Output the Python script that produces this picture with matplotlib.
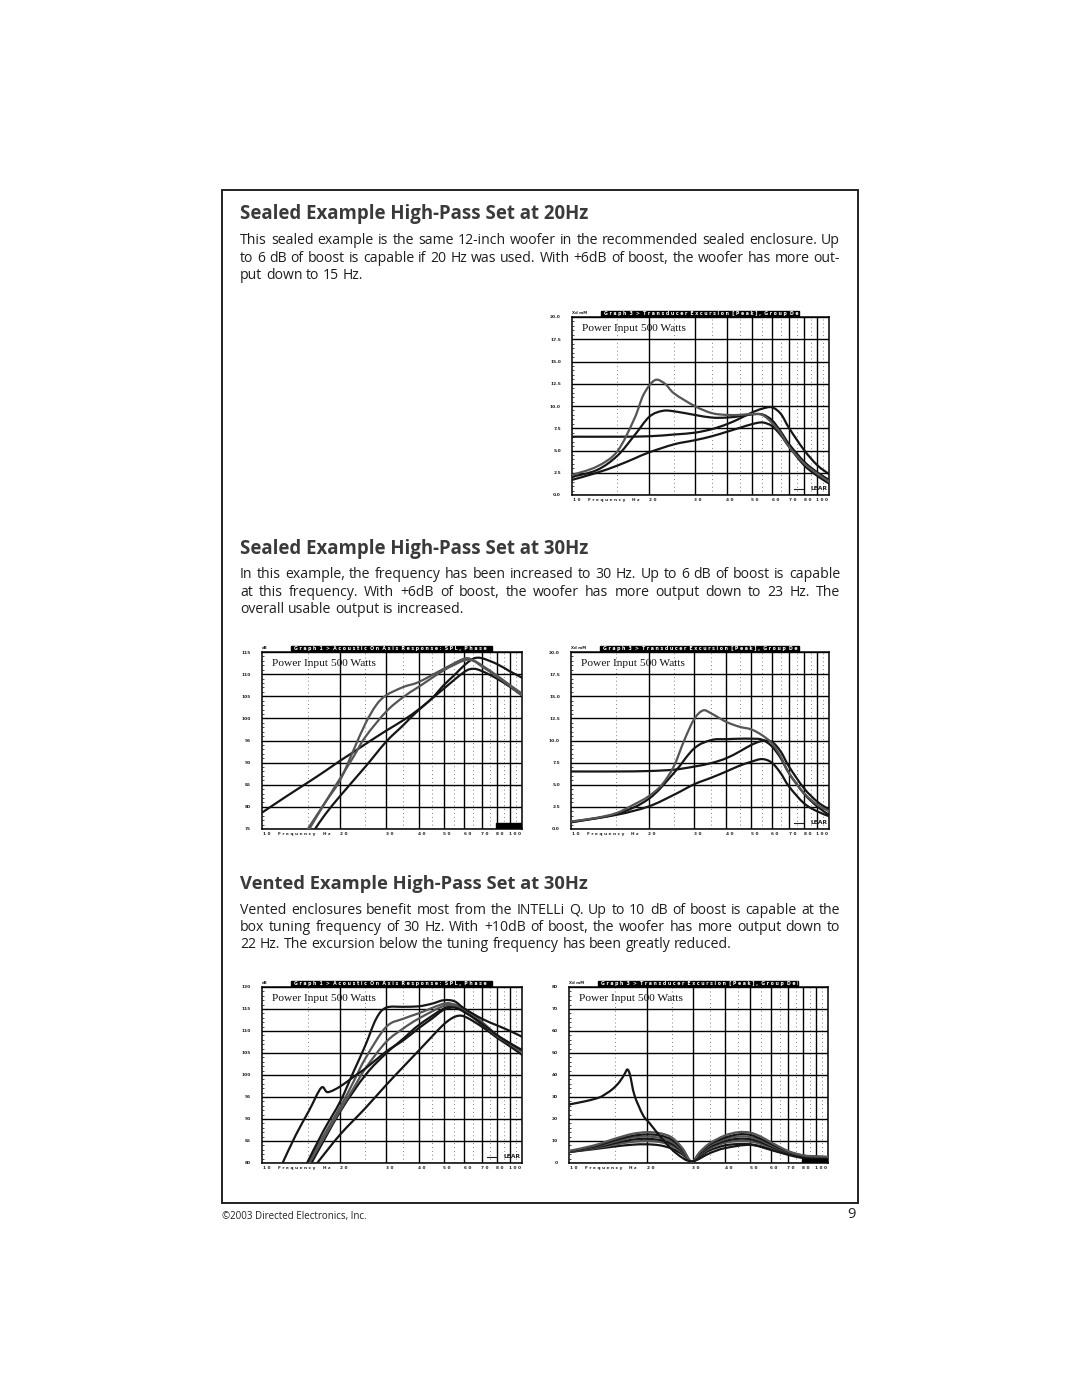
import numpy as np
import matplotlib.pyplot as plt
from matplotlib.patches import Rectangle, PathPatch
from matplotlib.path import Path
from matplotlib.ticker import NullLocator, MultipleLocator
from matplotlib.transforms import blended_transform_factory, TransformedBbox, Bbox

W, H = 1080, 1397
fig = plt.figure(figsize=(W / 100, H / 100), dpi=100)
fig.patch.set_facecolor("white")

GRAY = "#555555"
DARK = "#161616"

# ---------------- data ----------------
# chart 1: sealed, high-pass 20 Hz, excursion (mm)
s20_f_a = [10, 12.5, 15, 17.5, 19, 21, 23, 25, 30, 35, 40, 45, 50, 55, 60, 65, 70, 80, 90, 100]
s20_a = [2.25, 3.2, 4.9, 8.6, 11.3, 12.9, 12.5, 11.4, 10.0, 9.2, 9.0, 9.0, 9.1, 9.0, 8.1, 6.9, 5.4, 3.55, 2.4, 1.5]
s20_f_b = [10, 12.5, 15, 17.5, 20, 22.5, 25, 30, 35, 40, 45, 50, 55, 60, 65, 70, 80, 90, 100]
s20_b = [2.05, 2.8, 4.4, 6.7, 8.8, 9.45, 9.4, 9.0, 8.7, 8.7, 8.85, 9.05, 9.05, 8.4, 7.1, 5.7, 3.75, 2.55, 1.7]
s20_f_c = [10, 15, 20, 25, 30, 35, 40, 45, 50, 55, 60, 65, 70, 80, 90, 100]
s20_c = [6.55, 6.55, 6.6, 6.8, 7.0, 7.4, 7.95, 8.6, 9.25, 9.7, 9.85, 9.1, 7.5, 5.05, 3.35, 2.35]
s20_f_d = [10, 12.5, 15, 17.5, 20, 25, 30, 35, 40, 45, 50, 55, 60, 65, 70, 80, 90, 100]
s20_d = [1.7, 2.5, 3.3, 4.1, 4.8, 5.7, 6.15, 6.6, 7.1, 7.55, 7.95, 8.15, 7.75, 6.7, 5.4, 3.35, 2.15, 1.3]

# chart 2: sealed, high-pass 30 Hz, SPL (dB)
spl30_f_l = [10, 12.5, 15, 17.5, 20, 22.5, 25, 30, 35, 40, 45, 50, 55, 60, 65, 70, 80, 90, 100]
spl30_l = [78.7, 82.5, 85.5, 88.1, 90.45, 92.4, 94.2, 97.2, 99.6, 102, 104.5, 107.5, 109.8, 112, 113.5, 113.6, 112.3, 110.6, 109.2]
spl30_f_g1 = [15, 17.5, 20, 22.5, 25, 27.5, 30, 35, 40, 50, 60, 65, 70, 80, 90, 100]
spl30_g1 = [75, 81, 86.1, 92.85, 98.85, 103, 105.2, 107.1, 108.2, 111.2, 113.5, 113.1, 112, 109.7, 107.5, 105.6]
spl30_f_g2 = [15.2, 17.5, 20, 22.5, 25, 30, 35, 40, 50, 60, 65, 70, 80, 90, 100]
spl30_g2 = [75, 81, 86.5, 91.35, 95.85, 101.5, 104.85, 107.1, 110.85, 113.1, 113, 111.75, 109.5, 107.25, 105.2]
spl30_f_d = [16, 17.5, 20, 25, 30, 35, 40, 50, 60, 65, 70, 80, 90, 100]
spl30_d = [75, 78.3, 82.5, 89.1, 94.7, 98.5, 101.85, 106.7, 110.5, 111.2, 110.7, 109, 107.1, 105.2]

# chart 3: sealed, high-pass 30 Hz, excursion (mm)
x30_f_a = [10, 12.5, 15, 17.5, 20, 22.5, 25, 27.5, 30, 32.5, 35, 40, 45, 50, 55, 60, 65, 70, 80, 90, 100]
x30_a = [0.85, 1.25, 1.8, 2.75, 3.7, 5.0, 7.05, 10.05, 12.4, 13.4, 13.05, 12.1, 11.55, 11.25, 10.6, 9.7, 8.2, 6.3, 4.05, 2.75, 2.0]
x30_f = [10, 15, 20, 25, 30, 35, 40, 45, 50, 55, 60, 65, 70, 80, 90, 100]
x30_b = [0.75, 1.7, 3.4, 6.3, 9.1, 10.05, 10.15, 10.2, 10.2, 10.1, 9.35, 8.0, 6.3, 4.0, 2.55, 1.6]
x30_c = [6.5, 6.5, 6.55, 6.7, 7.05, 7.45, 8.0, 8.75, 9.5, 9.95, 9.85, 8.75, 7.05, 4.6, 3.1, 2.2]
x30_d = [0.8, 1.6, 2.55, 3.85, 5.05, 5.8, 6.5, 7.15, 7.6, 7.9, 7.5, 6.3, 4.8, 2.9, 2.0, 1.45]

# chart 4: vented, high-pass 30 Hz, SPL (dB)
v_f1 = [12, 13.5, 15.2, 16.9, 17.9, 20, 22.5, 25, 30, 35, 40, 45, 50, 55, 60, 70, 80, 90, 100]
v_1 = [80, 86.4, 92.0, 97.1, 96.1, 97.4, 99.6, 101.5, 105.3, 107.9, 110.6, 112.8, 114.8, 115.3, 114.3, 111.7, 109.1, 107.2, 105.7]
v_f2 = [14.9, 17.2, 20, 22.5, 25, 27.5, 30, 35, 40, 45, 50, 55, 60, 70, 80, 90, 100]
v_2 = [80, 87.2, 94, 100.75, 106.8, 112.8, 115.3, 115.5, 115.6, 116.2, 117, 116.75, 115.1, 112.8, 111.3, 110, 108.7]
v_f3 = [15, 20, 22.5, 25, 30, 35, 40, 50, 55, 60, 70, 80, 90, 100]
v_3 = [80, 92.8, 98.5, 103.8, 110.9, 112.8, 114, 116.2, 116, 115.1, 112.1, 109.1, 107.2, 105.4]
v_f4 = [15.2, 20, 22.5, 25, 30, 35, 40, 50, 55, 60, 70, 80, 90, 100]
v_4 = [80, 92.1, 97, 101.5, 107.5, 110.6, 112.8, 115.7, 115.7, 114.9, 111.7, 108.9, 107, 105.1]
v_f5 = [15.5, 20, 25, 30, 35, 40, 50, 55, 60, 70, 80, 90, 100]
v_5 = [80, 91.7, 100, 104.9, 108.3, 111.3, 115.1, 115.5, 114.7, 111.5, 108.7, 106.8, 104.9]
v_f6 = [16.3, 20, 25, 30, 35, 40, 45, 50, 55, 60, 70, 80, 90, 100]
v_6 = [80, 86.5, 92.5, 97.7, 101.9, 105.5, 108.7, 111.5, 113.2, 113.3, 111, 108.5, 106.5, 104.6]

# chart 5: vented, high-pass 30 Hz, excursion (mm)
vx_f_k = [10, 11.7, 13.1, 13.9, 14.8, 15.7, 16.4, 16.8, 17.2, 17.9, 19.3, 20.5, 23.1, 25.9, 29.7,
          35, 40, 50, 60, 70, 80, 90, 100]
vx_k = [26.6, 28.2, 29.8, 31.5, 33.8, 37, 40.5, 42.5, 40, 30.8, 21.8, 18, 10.5, 4.5, 0.75,
        4.5, 6.75, 8.25, 6, 3.75, 2.25, 1.8, 1.8]
vx_f = [10, 12.5, 15, 17.5, 20, 22.5, 25, 27.5, 29.7, 32, 35, 40, 45, 50, 55, 60, 70, 80, 90, 100]
vx_1 = [5.5, 8, 11, 13.2, 14, 13.5, 11.5, 6.5, 0.5, 5, 9, 12.5, 14, 13.8, 12, 9.5, 5.5, 3.5, 3, 2.8]
vx_2 = [5.3, 7.5, 10.3, 12.3, 13, 12.5, 10.5, 6, 0.5, 4.5, 8.5, 11.5, 13, 12.8, 11, 8.8, 5.2, 3.4, 2.9, 2.7]
vx_3 = [5.2, 7.2, 9.7, 11.5, 12, 11.4, 9.5, 5.5, 0.5, 4.2, 8, 10.8, 12, 11.8, 10.3, 8.2, 5, 3.3, 2.8, 2.6]
vx_4 = [5, 6.9, 9, 10.6, 11, 10.4, 8.6, 5, 0.5, 3.8, 7.3, 10, 11, 10.8, 9.5, 7.6, 4.7, 3.2, 2.7, 2.5]
vx_5 = [5, 6.6, 8.3, 9.6, 10, 9.5, 7.8, 4.5, 0.5, 3.5, 6.7, 9.2, 10, 9.8, 8.7, 7, 4.4, 3.1, 2.6, 2.4]
vx_6 = [5, 6.3, 7.5, 8.3, 8.5, 8, 6.5, 3.8, 0.5, 3, 5.8, 8, 8.6, 8.5, 7.6, 6.2, 4, 3, 2.5, 2.3]

xd_ticks = [0, 2.5, 5, 7.5, 10, 12.5, 15, 17.5, 20]
xd_labels = ["0.0", "2.5", "5.0", "7.5", "10.0", "12.5", "15.0", "17.5", "20.0"]
spl_ticks_a = [75, 80, 85, 90, 95, 100, 105, 110, 115]
spl_ticks_b = [80, 85, 90, 95, 100, 105, 110, 115, 120]
xd_ticks_b = [0, 10, 20, 30, 40, 50, 60, 70, 80]

major_f = [20, 30, 40, 50, 60, 70, 80, 90]
minor_f = [15, 25, 35, 45, 55, 65, 75, 85, 95]
freq_labels = [(20, "2 0"), (30, "3 0"), (40, "4 0"), (50, "5 0"), (60, "6 0"), (70, "7 0"), (80, "8 0")]

HDR_SPL = "Graph 1 > Acoustic On Axis Response: SPL, Phase"
HDR_XD = "Graph 3 > Transducer Excursion [Peak], Group Delay"


def rect(x0, y0, x1, y1):
    return [x0 / W, 1 - y1 / H, (x1 - x0) / W, (y1 - y0) / H]


def spaced(s):
    return " ".join(s)


def smooth_path(fx, vals):
    # draw a smooth curve through the read points (control points in log-f space)
    u = np.log10(fx)
    v = np.asarray(vals, dtype=float)
    n = len(u)
    verts = [(fx[0], v[0])]
    codes = [Path.MOVETO]
    for i in range(n - 1):
        i0 = max(i - 1, 0)
        i3 = min(i + 2, n - 1)
        c1u = u[i] + (u[i + 1] - u[i0]) / 6
        c1v = v[i] + (v[i + 1] - v[i0]) / 6
        c2u = u[i + 1] - (u[i3] - u[i]) / 6
        c2v = v[i + 1] - (v[i3] - v[i]) / 6
        verts += [(10 ** c1u, c1v), (10 ** c2u, c2v), (fx[i + 1], v[i + 1])]
        codes += [Path.CURVE4] * 3
    return Path(verts, codes)


def chart(pos, ticks, labels, unit, header, curves, minor, logo=True, blob=None):
    ax = fig.add_axes(rect(*pos))
    ax.set_xscale("log")
    ax.set_xlim(10, 100)
    ax.set_ylim(ticks[0], ticks[-1])
    for f in major_f:
        ax.axvline(f, color="black", lw=1.0, zorder=1)
    for f in minor_f:
        ax.axvline(f, color="#808080", lw=0.7, ls=(0, (1, 3)), zorder=1)
    for t in ticks:
        ax.axhline(t, color="black", lw=1.0, zorder=1)
    for fx, vals, col in curves:
        ax.add_patch(PathPatch(smooth_path(fx, vals), fill=False, edgecolor=col,
                               lw=1.6, capstyle="round", joinstyle="round", zorder=3))
    for s in ax.spines.values():
        s.set_linewidth(1.1)
    ax.xaxis.set_major_locator(NullLocator())
    ax.xaxis.set_minor_locator(NullLocator())
    ax.set_yticks(ticks)
    ax.set_yticklabels(labels, fontsize=3.2, fontweight="bold", color="#222222")
    ax.yaxis.set_minor_locator(MultipleLocator(minor))
    ax.tick_params(axis="y", which="major", length=0, pad=8)
    ax.tick_params(axis="y", which="minor", direction="in", length=1.6, width=0.5)

    tr = blended_transform_factory(ax.transData, ax.transAxes)
    kw = dict(transform=tr, va="top", fontsize=3.1, fontweight="bold", color="#222222")
    ax.text(10.1, -0.018, "1 0", ha="left", **kw)
    ax.text(13.6, -0.018, spaced("Frequency"), ha="center", **kw)
    ax.text(17.7, -0.018, "H z", ha="center", **kw)
    for f, lab in freq_labels:
        ax.text(f * 1.03, -0.018, lab, ha="center", **kw)
    ax.text(99.5, -0.018, "1 0 0", ha="right", **kw)

    # header bar above the plot
    bar = Rectangle((0.113, 1.003), 0.77, 0.032, transform=ax.transAxes,
                    color="black", clip_on=False, zorder=5)
    ax.add_patch(bar)
    ht = ax.text(0.125, 1.019, "  ".join(spaced(w) for w in header.split(" ")),
                 transform=ax.transAxes, ha="left", va="center", fontsize=3.3,
                 fontweight="bold", color="white", zorder=6)
    ht.set_clip_box(TransformedBbox(Bbox([[0.113, 1.0], [0.883, 1.04]]), ax.transAxes))
    ht.set_clip_on(True)
    ax.text(0.0, 1.012, unit, transform=ax.transAxes, ha="left", va="bottom",
            fontsize=2.8, fontweight="bold", color="#222222")

    ax.text(0.04, 0.935, "Power Input 500 Watts", transform=ax.transAxes,
            ha="left", va="center", fontsize=8.2, family="Liberation Serif",
            color="#111111", zorder=4)
    if logo:
        ax.text(0.993, 0.02, "LEAR", transform=ax.transAxes, ha="right",
                va="bottom", fontsize=4.3, fontweight="bold", color="#222222",
                zorder=4)
        ax.plot([0.865, 0.9], [0.035, 0.035], transform=ax.transAxes,
                color="#222222", lw=0.8, zorder=4)
    if blob is not None:
        ax.add_patch(Rectangle(blob[:2], blob[2], blob[3], transform=ax.transAxes,
                               color="black", zorder=4))
    return ax


chart((572, 317, 829, 495), xd_ticks, xd_labels, "Xd mM", HDR_XD,
      [(s20_f_d, s20_d, DARK), (s20_f_c, s20_c, DARK),
       (s20_f_b, s20_b, DARK), (s20_f_a, s20_a, GRAY)], 0.5)

chart((262, 652, 522, 829), spl_ticks_a, [str(t) for t in spl_ticks_a], "dB", HDR_SPL,
      [(spl30_f_l, spl30_l, DARK), (spl30_f_d, spl30_d, DARK),
       (spl30_f_g2, spl30_g2, GRAY), (spl30_f_g1, spl30_g1, GRAY)], 1,
      logo=False, blob=(0.9, 0.0, 0.1, 0.035))

chart((571, 652, 829, 829), xd_ticks, xd_labels, "Xd mM", HDR_XD,
      [(x30_f, x30_d, DARK), (x30_f, x30_c, DARK),
       (x30_f, x30_b, DARK), (x30_f_a, x30_a, GRAY)], 0.5)

chart((262, 987, 522, 1163), spl_ticks_b, [str(t) for t in spl_ticks_b], "dB", HDR_SPL,
      [(v_f6, v_6, DARK), (v_f5, v_5, DARK), (v_f4, v_4, GRAY),
       (v_f3, v_3, GRAY), (v_f1, v_1, DARK), (v_f2, v_2, DARK)], 1)

chart((569, 987, 828, 1163), xd_ticks_b, [str(t) for t in xd_ticks_b], "Xd mM", HDR_XD,
      [(vx_f, vx_6, DARK), (vx_f, vx_5, GRAY), (vx_f, vx_4, DARK),
       (vx_f, vx_3, GRAY), (vx_f, vx_2, DARK), (vx_f, vx_1, GRAY),
       (vx_f_k, vx_k, DARK)], 2,
      logo=False, blob=(0.9, 0.0, 0.1, 0.025))

# ---------------- page text ----------------
border = fig.add_axes([0, 0, 1, 1], zorder=-1)
border.set_xlim(0, W)
border.set_ylim(H, 0)
border.axis("off")
border.add_patch(Rectangle((222, 190), 636, 1013, fill=False, lw=1.4, edgecolor="#222222"))

renderer = fig.canvas.get_renderer()
TITLE = dict(family="Open Sans", fontsize=11.0, fontweight="bold", color="#3a3a3a", va="center")

# body size: make the first (naturally spaced) line fill the column
probe = fig.text(0, 0, "This sealed example is the same 12-inch woofer in the recommended sealed enclosure. Up",
                 family="Open Sans", fontsize=9.0)
body_size = 9.0 * 596 / probe.get_window_extent(renderer).width
probe.remove()
BODY = dict(family="Open Sans", fontsize=body_size, color="#1e1e1e", va="baseline")


def title(s, y, width=348):
    t = fig.text(240 / W, 1 - y / H, s, ha="left", **TITLE)
    w = t.get_window_extent(renderer).width
    t.set_fontsize(11.0 * width / w)


def paragraph(lines, y0, step=17.2, x0=240, x1=840):
    sp = fig.text(0, 0, "a a", **BODY)
    nsp = fig.text(0, 0, "aa", **BODY)
    space = sp.get_window_extent(renderer).width - nsp.get_window_extent(renderer).width
    sp.remove()
    nsp.remove()
    for i, line in enumerate(lines):
        y = 1 - (y0 + 4.5 + i * step) / H
        words = line.split(" ")
        texts = [fig.text(0, y, w, ha="left", **BODY) for w in words]
        widths = [t.get_window_extent(renderer).width for t in texts]
        if i < len(lines) - 1:
            gap = (x1 - x0 - sum(widths)) / (len(words) - 1)
        else:
            gap = space
        x = x0
        for t, w in zip(texts, widths):
            t.set_x(x / W)
            x += w + gap


title("Sealed Example High-Pass Set at 20Hz", 214)
paragraph(["This sealed example is the same 12-inch woofer in the recommended sealed enclosure. Up",
           "to 6 dB of boost is capable if 20 Hz was used. With +6dB of boost, the woofer has more out-",
           "put down to 15 Hz."], 240)

title("Sealed Example High-Pass Set at 30Hz", 549)
paragraph(["In this example, the frequency has been increased to 30 Hz. Up to 6 dB of boost is capable",
           "at this frequency. With +6dB of boost, the woofer has more output down to 23 Hz. The",
           "overall usable output is increased."], 574)

title("Vented Example High-Pass Set at 30Hz", 884)
paragraph(["Vented enclosures benefit most from the INTELLi Q. Up to 10 dB of boost is capable at the",
           "box tuning frequency of 30 Hz. With +10dB of boost, the woofer has more output down to",
           "22 Hz. The excursion below the tuning frequency has been greatly reduced."], 909)

fig.text(222 / W, 1 - 1217 / H, "©2003 Directed Electronics, Inc.", ha="left", va="center",
         family="Open Sans", fontsize=7.0, color="#222222")
fig.text(856 / W, 1 - 1215 / H, "9", ha="right", va="center",
         family="Open Sans", fontsize=10.5, color="#222222")

fig.savefig("out.png", dpi=100, facecolor="white")
